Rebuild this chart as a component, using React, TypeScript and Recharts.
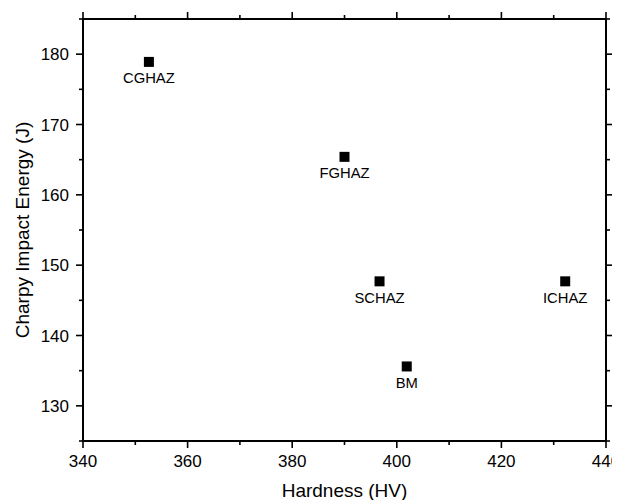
import React from 'react';
import { ScatterChart, Scatter, XAxis, YAxis, ReferenceArea } from 'recharts';

const zoneNames = ['CGHAZ', 'FGHAZ', 'SCHAZ', 'BM', 'ICHAZ'];
const hardness = [352.6, 390.0, 396.7, 401.9, 432.2];
const impactEnergy = [178.9, 165.4, 147.7, 135.6, 147.7];

const xDomain = [340, 440];
const yDomain = [125, 185];
const xTicks = [340, 350, 360, 370, 380, 390, 400, 410, 420, 430, 440];
const xLabeled = [340, 360, 380, 400, 420, 440];
const yTicks = [125, 130, 135, 140, 145, 150, 155, 160, 165, 170, 175, 180, 185];
const yLabeled = [130, 140, 150, 160, 170, 180];

const data = zoneNames.map((name, i) => ({ name, x: hardness[i], y: impactEnergy[i] }));

const FONT = '"Liberation Sans", Arial, Helvetica, sans-serif';
const MAJOR = 7;
const MINOR = 4;

function BottomTick(props: any) {
  const { x, y, payload } = props;
  const major = xLabeled.includes(payload.value);
  return (
    <g>
      <line x1={x} x2={x} y1={y} y2={y + (major ? MAJOR : MINOR)} stroke="#000" strokeWidth={1.6} />
      {major && (
        <text x={x} y={y + 26} textAnchor="middle" fontSize={17} fontFamily={FONT} fill="#000">
          {payload.value}
        </text>
      )}
    </g>
  );
}

function TopTick(props: any) {
  const { x, y, payload } = props;
  const major = xLabeled.includes(payload.value);
  return <line x1={x} x2={x} y1={y} y2={y - (major ? MAJOR : MINOR)} stroke="#000" strokeWidth={1.6} />;
}

function LeftTick(props: any) {
  const { x, y, payload } = props;
  const major = yLabeled.includes(payload.value);
  return (
    <g>
      <line x1={x} x2={x - (major ? MAJOR : MINOR)} y1={y} y2={y} stroke="#000" strokeWidth={1.6} />
      {major && (
        <text x={x - 14} y={y} dy="0.36em" textAnchor="end" fontSize={17} fontFamily={FONT} fill="#000">
          {payload.value}
        </text>
      )}
    </g>
  );
}

function RightTick(props: any) {
  const { x, y, payload } = props;
  const major = yLabeled.includes(payload.value);
  return <line x1={x} x2={x + (major ? MAJOR : MINOR)} y1={y} y2={y} stroke="#000" strokeWidth={1.6} />;
}

function Marker(props: any) {
  const { cx, cy, payload } = props;
  return (
    <g>
      <rect x={cx - 5} y={cy - 5} width={10} height={10} fill="#000" />
      <text x={cx} y={cy + 21.5} textAnchor="middle" fontSize={14.8} fontFamily={FONT} fill="#000">
        {payload.name}
      </text>
    </g>
  );
}

const axisLine = { stroke: '#000', strokeWidth: 2 };

export default function App() {
  return (
    <ScatterChart
      width={612}
      height={492}
      margin={{ top: 0, right: 0, bottom: 0, left: 0 }}
      style={{ overflow: 'visible' }}
    >
      <XAxis
        xAxisId="b"
        type="number"
        dataKey="x"
        orientation="bottom"
        domain={xDomain}
        ticks={xTicks}
        interval={0}
        height={59}
        stroke="#000"
        axisLine={axisLine}
        tickLine={false}
        tickSize={0}
        tickMargin={0}
        tick={<BottomTick />}
        label={{
          value: 'Hardness (HV)',
          position: 'insideBottom',
          offset: 3,
          style: { fontSize: 19, fontFamily: FONT, fill: '#000' },
        }}
      />
      <XAxis
        xAxisId="t"
        type="number"
        dataKey="x"
        orientation="top"
        domain={xDomain}
        ticks={xTicks}
        interval={0}
        height={11}
        stroke="#000"
        axisLine={axisLine}
        tickLine={false}
        tickSize={0}
        tickMargin={0}
        tick={<TopTick />}
      />
      <YAxis
        yAxisId="l"
        type="number"
        dataKey="y"
        orientation="left"
        domain={yDomain}
        ticks={yTicks}
        interval={0}
        width={75}
        stroke="#000"
        axisLine={axisLine}
        tickLine={false}
        tickSize={0}
        tickMargin={0}
        tick={<LeftTick />}
        label={{
          value: 'Charpy Impact Energy (J)',
          angle: -90,
          position: 'insideLeft',
          offset: 14,
          style: { textAnchor: 'middle', fontSize: 19, fontFamily: FONT, fill: '#000' },
        }}
      />
      <YAxis
        yAxisId="r"
        type="number"
        dataKey="y"
        orientation="right"
        domain={yDomain}
        ticks={yTicks}
        interval={0}
        width={14}
        stroke="#000"
        axisLine={axisLine}
        tickLine={false}
        tickSize={0}
        tickMargin={0}
        tick={<RightTick />}
      />
      <ReferenceArea
        xAxisId="b"
        yAxisId="l"
        x1={xDomain[0]}
        x2={xDomain[1]}
        y1={yDomain[0]}
        y2={yDomain[1]}
        fill="none"
        fillOpacity={0}
        stroke="#000"
        strokeWidth={2}
        strokeOpacity={1}
        ifOverflow="visible"
      />
      <Scatter data={data} xAxisId="b" yAxisId="l" shape={<Marker />} isAnimationActive={false} />
      <Scatter data={data} xAxisId="t" yAxisId="r" shape={() => <g />} isAnimationActive={false} />
    </ScatterChart>
  );
}
